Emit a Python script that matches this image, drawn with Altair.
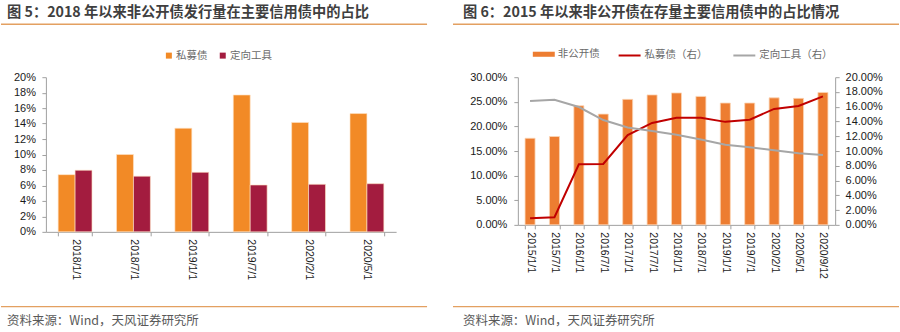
import altair as alt
import pandas as pd

# ---------------- data ----------------
left_title = "图 5：2018 年以来非公开债发行量在主要信用债中的占比"
right_title = "图 6：2015 年以来非公开债在存量主要信用债中的占比情况"
source_text = "资料来源：Wind，天风证券研究所"

left_dates = ["2018/1/1", "2018/7/1", "2019/1/1", "2019/7/1", "2020/2/1", "2020/5/1"]
left_series = ["私募债", "定向工具"]
left_private = [0.074, 0.100, 0.134, 0.177, 0.1415, 0.153]
left_directed = [0.0797, 0.072, 0.077, 0.0606, 0.0615, 0.0623]

right_dates = ["2015/1/1", "2015/7/1", "2016/1/1", "2016/7/1", "2017/1/1", "2017/7/1",
               "2018/1/1", "2018/7/1", "2019/1/1", "2019/7/1", "2020/2/1", "2020/5/1", "2020/9/12"]
right_bar_series = ["非公开债"]
right_line_series = ["私募债（右）", "定向工具（右）"]
right_nonpublic = [0.176, 0.1795, 0.242, 0.225, 0.255, 0.264, 0.268, 0.261, 0.2475, 0.2475, 0.258, 0.257, 0.269]
right_private = [0.009, 0.0103, 0.082, 0.0825, 0.1215, 0.138, 0.145, 0.145, 0.1395, 0.1425, 0.157, 0.161, 0.174]
right_directed = [0.1677, 0.1695, 0.1596, 0.142, 0.132, 0.127, 0.122, 0.1157, 0.1085, 0.105, 0.101, 0.097, 0.0946]

# ---------------- styling ----------------
LAT = "Liberation Sans"
CJK = "Noto Sans CJK SC"
RULE_COLOR = "#E3A061"
AX_COLOR = "#A0A0A0"
LABEL_COLOR = "#1a1a1a"

ldf = pd.DataFrame({
    "date": left_dates * 2,
    "series": [left_series[0]] * len(left_dates) + [left_series[1]] * len(left_dates),
    "value": left_private + left_directed,
})
rbar = pd.DataFrame({"date": right_dates, "series": right_bar_series[0], "value": right_nonpublic})
rline = pd.DataFrame({
    "date": right_dates * 2,
    "series": [right_line_series[0]] * len(right_dates) + [right_line_series[1]] * len(right_dates),
    "value": right_private + right_directed,
})
one = pd.DataFrame({"k": [0]})


def x_axis():
    return alt.Axis(labelAngle=90, labelAlign="left", labelBaseline="middle", tickBand="extent",
                    labelFont=LAT, labelFontSize=10.5, labelColor=LABEL_COLOR, labelPadding=3,
                    domainColor=AX_COLOR, tickColor=AX_COLOR, tickSize=4, grid=False, title=None)


def y_axis(fmt, vals, orient="left", pad=6.5):
    return alt.Axis(format=fmt, values=vals, orient=orient, labelFont=LAT, labelFontSize=11,
                    labelColor=LABEL_COLOR, labelPadding=pad, domainColor=AX_COLOR,
                    tickColor=AX_COLOR, tickSize=4, grid=False, title=None)


def decor(title, tx, rx1, rx2, sx):
    t = alt.Chart(one).mark_text(align="left", baseline="middle", font=CJK, fontSize=14.3,
                                 fontWeight="bold", color="#3f3f3f").encode(
        x=alt.value(tx), y=alt.value(-64.5), text=alt.value(title))
    r1 = alt.Chart(one).mark_rule(color=RULE_COLOR, strokeWidth=1.5).encode(
        x=alt.value(rx1), x2=alt.value(rx2), y=alt.value(-53))
    r2 = alt.Chart(one).mark_rule(color=RULE_COLOR, strokeWidth=1.2).encode(
        x=alt.value(rx1), x2=alt.value(rx2), y=alt.value(230))
    s = alt.Chart(one).mark_text(align="left", baseline="middle", font=CJK, fontSize=12.5,
                                 color="#595959").encode(
        x=alt.value(sx), y=alt.value(244), text=alt.value(source_text))
    return [t, r1, r2, s]


# ---------------- left panel ----------------
lx = alt.X("date:N", sort=left_dates, scale=alt.Scale(paddingInner=0.42, paddingOuter=0.21), axis=x_axis())
left_bars = alt.Chart(ldf).mark_bar(stroke="#FFE3C4", strokeWidth=0.8, strokeOpacity=0.8).encode(
    x=lx,
    xOffset=alt.XOffset("series:N", sort=left_series, scale=alt.Scale(paddingInner=0, paddingOuter=0)),
    y=alt.Y("value:Q", scale=alt.Scale(domain=[0, 0.2], nice=False),
            axis=y_axis(".0%", [i / 100 for i in range(0, 21, 2)])),
    color=alt.Color("series:N", sort=left_series,
                    scale=alt.Scale(domain=left_series, range=["#F28A26", "#A31C3F"]),
                    legend=alt.Legend(orient="none", legendX=118, legendY=-27, direction="horizontal",
                                      title=None, symbolType="square", symbolSize=36, labelOffset=2,
                                      columnPadding=10, labelFont=CJK, labelFontSize=10.5,
                                      labelColor="#6a6a6a", symbolStrokeWidth=0)),
)
bound = alt.Chart(one).mark_rect(opacity=0).encode(
    x=alt.value(-45), x2=alt.value(855), y=alt.value(-77), y2=alt.value(255))
left = alt.layer(bound, left_bars, *decor(left_title, -39, -45, 382, -39)).properties(width=351, height=155)

# ---------------- right panel ----------------
rx = alt.X("date:N", sort=right_dates, scale=alt.Scale(paddingInner=0.59, paddingOuter=0.295), axis=x_axis())
right_bars = alt.Chart(rbar).mark_bar(stroke="#FBD5B5", strokeWidth=0.8).encode(
    x=rx,
    y=alt.Y("value:Q", scale=alt.Scale(domain=[0, 0.3], nice=False),
            axis=y_axis(".2%", [i / 100 for i in range(0, 31, 5)], pad=7)),
    fill=alt.Fill("series:N", scale=alt.Scale(domain=right_bar_series, range=["#ED7D31"]),
                  legend=alt.Legend(orient="none", legendX=15, legendY=-34, direction="horizontal",
                                    title=None, symbolType="M-1,-0.23H1V0.23H-1Z", symbolSize=484,
                                    labelOffset=3, labelFont=CJK, labelFontSize=10.5,
                                    labelColor="#6a6a6a", symbolStrokeWidth=0)),
)
right_lines = alt.Chart(rline).mark_line(strokeWidth=2).encode(
    x=rx,
    y=alt.Y("value:Q", scale=alt.Scale(domain=[0, 0.2], nice=False),
            axis=y_axis(".2%", [i / 100 for i in range(0, 21, 2)], orient="right", pad=6)),
    stroke=alt.Stroke("series:N", sort=right_line_series,
                      scale=alt.Scale(domain=right_line_series, range=["#C00000", "#A6A6A6"]),
                      legend=alt.Legend(orient="none", legendX=100, legendY=-34, direction="horizontal",
                                        title=None, symbolType="stroke", symbolSize=484,
                                        symbolStrokeWidth=2, labelOffset=3, columnPadding=22,
                                        labelFont=CJK, labelFontSize=10.5, labelColor="#6a6a6a")),
)
right = alt.layer(right_bars, right_lines, *decor(right_title, -55, -65, 382, -55)).resolve_scale(
    y="independent").properties(width=318, height=148)

chart = alt.hconcat(left, right, spacing=122, bounds="flush").resolve_scale(
    color="independent", fill="independent", stroke="independent"
).properties(padding=0, background="white").configure_view(stroke=None)

chart.save("out.html", embed_options={"renderer": "svg", "actions": False})
